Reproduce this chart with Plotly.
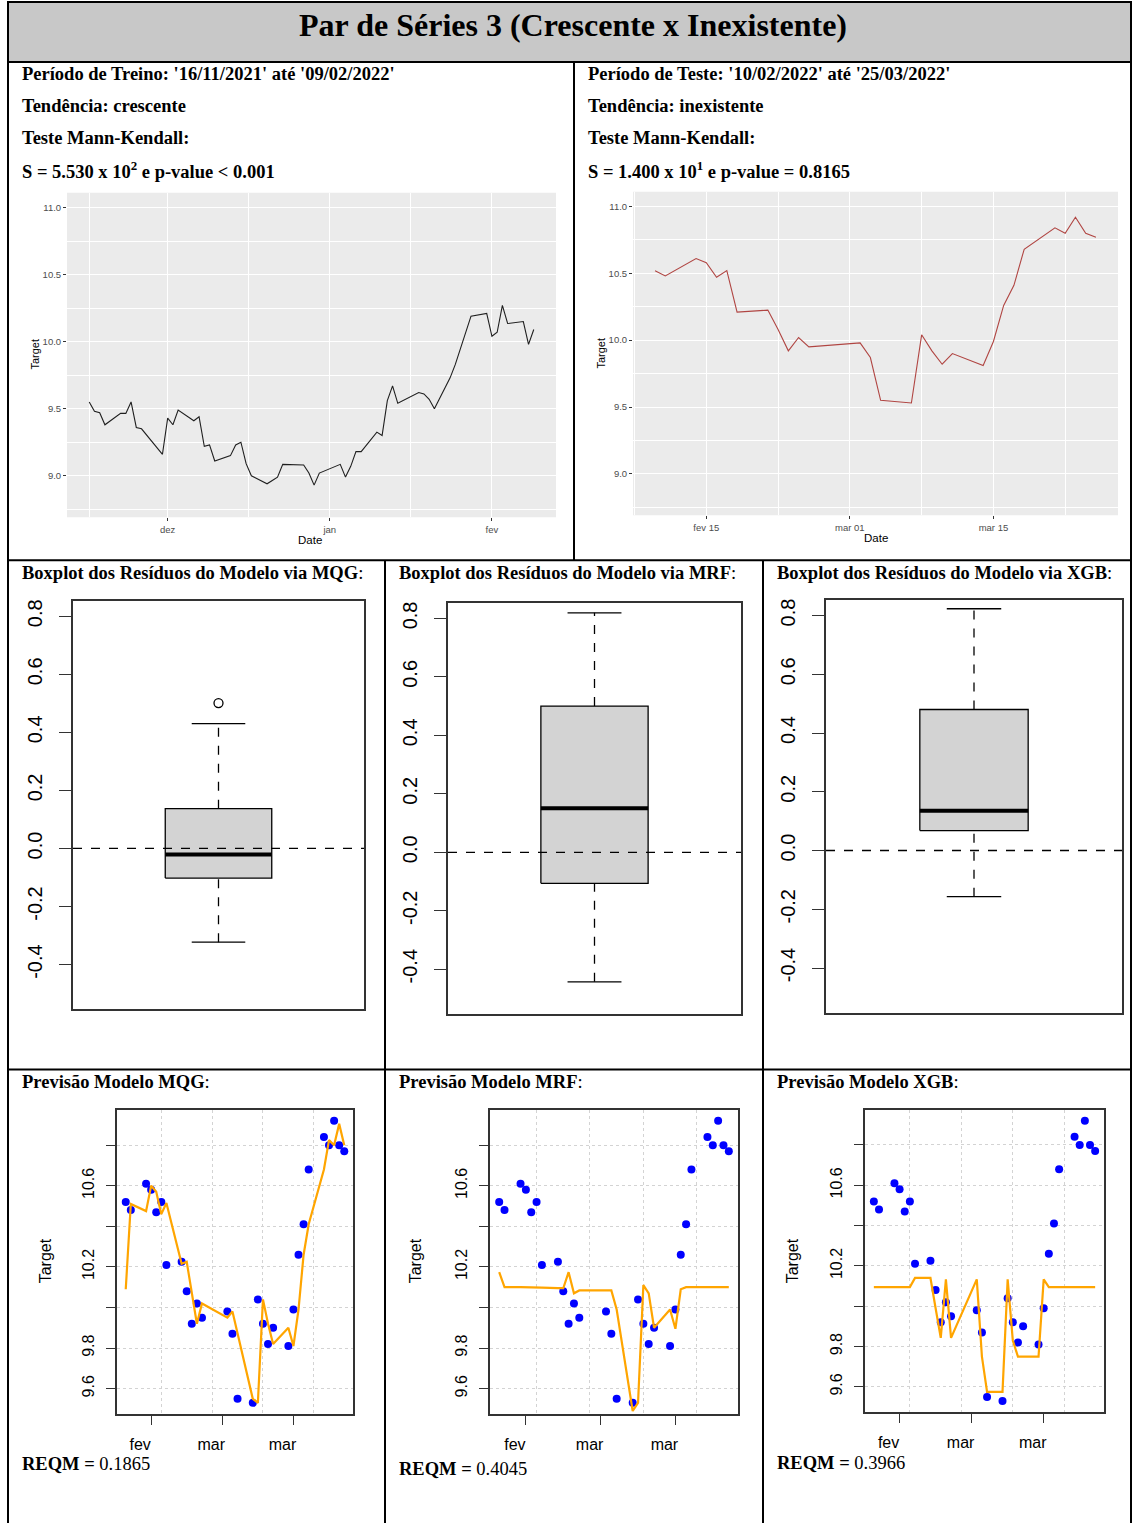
import plotly.graph_objects as go
import pandas as pd

W, H = 1133, 1523

# ---------------- data ----------------
train_dates = ["2021-11-16", "2021-11-17", "2021-11-18", "2021-11-19", "2021-11-22", "2021-11-23",
               "2021-11-24", "2021-11-25", "2021-11-26", "2021-11-29", "2021-11-30", "2021-12-01",
               "2021-12-02", "2021-12-03", "2021-12-06", "2021-12-07", "2021-12-08", "2021-12-09",
               "2021-12-10", "2021-12-13", "2021-12-14", "2021-12-15", "2021-12-16", "2021-12-17",
               "2021-12-20", "2021-12-21", "2021-12-22", "2021-12-23", "2021-12-27", "2021-12-28",
               "2021-12-29", "2021-12-30", "2022-01-03", "2022-01-04", "2022-01-05", "2022-01-06",
               "2022-01-07", "2022-01-10", "2022-01-11", "2022-01-12", "2022-01-13", "2022-01-14",
               "2022-01-17", "2022-01-18", "2022-01-19", "2022-01-20", "2022-01-21", "2022-01-24",
               "2022-01-25", "2022-01-26", "2022-01-27", "2022-01-28", "2022-01-31", "2022-02-01",
               "2022-02-02", "2022-02-03", "2022-02-04", "2022-02-07", "2022-02-08", "2022-02-09"]
train_values = [9.55, 9.48, 9.47, 9.38, 9.465, 9.465,
                9.55, 9.36, 9.35, 9.21, 9.16, 9.43,
                9.38, 9.49, 9.41, 9.44, 9.22, 9.23,
                9.11, 9.15, 9.23, 9.25, 9.09, 9.00,
                8.94, 8.965, 8.99, 9.085, 9.08, 9.02,
                8.93, 9.02, 9.085, 8.99, 9.07, 9.18,
                9.18, 9.325, 9.30, 9.56, 9.67, 9.54,
                9.60, 9.62, 9.61, 9.57, 9.50, 9.73,
                9.83, 9.95, 10.07, 10.19, 10.21, 10.04,
                10.07, 10.27, 10.135, 10.15, 9.98, 10.09]

test_dates = ["2022-02-10", "2022-02-11", "2022-02-14", "2022-02-15", "2022-02-16", "2022-02-17",
              "2022-02-18", "2022-02-21", "2022-02-22", "2022-02-23", "2022-02-24", "2022-02-25",
              "2022-03-02", "2022-03-03", "2022-03-04", "2022-03-07", "2022-03-08", "2022-03-09",
              "2022-03-10", "2022-03-11", "2022-03-14", "2022-03-15", "2022-03-16", "2022-03-17",
              "2022-03-18", "2022-03-21", "2022-03-22", "2022-03-23", "2022-03-24", "2022-03-25"]
test_values = [10.52, 10.48, 10.61, 10.58, 10.47, 10.52,
               10.21, 10.225, 10.08, 9.92, 10.02, 9.95,
               9.98, 9.87, 9.55, 9.53, 10.04, 9.92,
               9.82, 9.90, 9.81, 9.99, 10.26, 10.41,
               10.68, 10.84, 10.80, 10.92, 10.80, 10.77]

pred_mqg = [10.09, 10.51, 10.475, 10.60, 10.57, 10.46,
            10.515, 10.215, 10.225, 10.08, 9.92, 10.02,
            9.95, 9.98, 9.87, 9.55, 9.53, 10.04,
            9.92, 9.82, 9.90, 9.81, 9.99, 10.26,
            10.41, 10.68, 10.825, 10.80, 10.905, 10.80]
pred_mrf = [10.174, 10.10, 10.10, 10.10, 10.10, 10.10,
            10.098, 10.095, 10.095, 10.174, 10.07, 10.084,
            10.084, 10.084, 9.99, 9.49, 9.53, 10.11,
            10.07, 9.90, 9.99, 9.895, 10.09, 10.10,
            10.10, 10.10, 10.10, 10.10, 10.10, 10.10]
pred_xgb = [10.095, 10.095, 10.095, 10.095, 10.095, 10.095,
            10.14, 10.14, 9.99, 9.843, 10.133, 9.843,
            10.133, 9.75, 9.575, 9.575, 10.133, 9.83,
            9.75, 9.75, 9.75, 10.133, 10.095, 10.095,
            10.095, 10.095, 10.095, 10.095, 10.095, 10.095]

models = ["MQG", "MRF", "XGB"]
reqm_values = ["0.1865", "0.4045", "0.3966"]

box_lower = [-0.323, -0.443, -0.157]
box_q1 = [-0.102, -0.106, 0.068]
box_median = [-0.021, 0.151, 0.135]
box_q3 = [0.137, 0.500, 0.480]
box_upper = [0.430, 0.819, 0.823]
box_outliers = [[0.501], [], []]

gg_ylim = [8.8, 11.0]
gg_yticks = [9.0, 9.5, 10.0, 10.5, 11.0]
gg_yticktext = ["9.0", "9.5", "10.0", "10.5", "11.0"]
gg_yminor = [8.75, 9.25, 9.75, 10.25, 10.75]
train_xticks = ["2021-12-01", "2022-01-01", "2022-02-01"]
train_xticktext = ["dez", "jan", "fev"]
train_xminor = ["2021-11-16", "2021-12-16 12:00", "2022-01-16 12:00"]
test_xticks = ["2022-02-15", "2022-03-01", "2022-03-15"]
test_xticktext = ["fev 15", "mar 01", "mar 15"]
test_xminor = ["2022-02-08", "2022-02-22", "2022-03-08", "2022-03-22"]

pred_xticktext = ["fev", "mar", "mar"]
pred_xgrid = ["2022-02-17", "2022-02-27", "2022-03-09", "2022-03-19"]
pred_yticks = [9.6, 9.8, 10.0, 10.2, 10.4, 10.6, 10.8]
pred_yticktext = ["9.6", "9.8", " ", "10.2", " ", "10.6", " "]

box_ylim = [-0.5, 0.8]
box_yticks = [-0.4, -0.2, 0.0, 0.2, 0.4, 0.6, 0.8]
box_yticktext = ["-0.4", "-0.2", "0.0", "0.2", "0.4", "0.6", "0.8"]

# ---------------- helpers ----------------
def fx(p):
    return p / W


def fy(p):
    return 1 - p / H


def dstr(t):
    return t.strftime("%Y-%m-%d %H:%M:%S")


def expand_dates(dates, frac):
    d = pd.to_datetime(dates)
    span = d.max() - d.min()
    return [dstr(d.min() - frac * span), dstr(d.max() + frac * span)]


def expand_num(lo, hi, frac):
    s = hi - lo
    return [lo - frac * s, hi + frac * s]


SANS = "Liberation Sans"
SERIF = "Liberation Serif"

fig = go.Figure()

# ---------------- top ggplot panels ----------------
fig.add_trace(go.Scatter(x=train_dates, y=train_values, mode="lines",
                         line=dict(color="#1f1f1f", width=1.1), xaxis="x", yaxis="y"))
fig.add_trace(go.Scatter(x=test_dates, y=test_values, mode="lines",
                         line=dict(color="#B04542", width=1.1), xaxis="x2", yaxis="y2"))

gg_yrange = expand_num(gg_ylim[0], gg_ylim[1], 0.05)


def gg_xaxis(dom, rng, tv, tt, minor, anchor):
    return dict(domain=dom, type="date", range=rng, tickmode="array", tickvals=tv, ticktext=tt,
                ticks="outside", ticklen=3, tickcolor="#333333", tickwidth=1,
                tickfont=dict(size=9.5, color="#4D4D4D", family=SANS),
                showgrid=True, gridcolor="white", gridwidth=1.1, zeroline=False, showline=False,
                minor=dict(tickmode="array", tickvals=minor, showgrid=True, gridcolor="white",
                           gridwidth=0.5),
                anchor=anchor)


def gg_yaxis(dom, anchor):
    return dict(domain=dom, range=gg_yrange, tickmode="array", tickvals=gg_yticks,
                ticktext=gg_yticktext, ticks="outside", ticklen=3, tickcolor="#333333",
                tickwidth=1, tickfont=dict(size=9.5, color="#4D4D4D", family=SANS),
                showgrid=True, gridcolor="white", gridwidth=1.1, zeroline=False, showline=False,
                minor=dict(tickmode="array", tickvals=gg_yminor, showgrid=True,
                           gridcolor="white", gridwidth=0.5),
                anchor=anchor)


layout = dict(
    width=W, height=H, margin=dict(l=0, r=0, t=0, b=0),
    paper_bgcolor="white", plot_bgcolor="white", showlegend=False,
    font=dict(family=SANS, color="black"),
)
layout["xaxis"] = gg_xaxis([fx(67), fx(556)], expand_dates(train_dates, 0.05),
                           train_xticks, train_xticktext, train_xminor, "y")
layout["yaxis"] = gg_yaxis([fy(516), fy(191)], "x")
layout["xaxis2"] = gg_xaxis([fx(633), fx(1118)], expand_dates(test_dates, 0.05),
                            test_xticks, test_xticktext, test_xminor, "y2")
layout["yaxis2"] = gg_yaxis([fy(514), fy(190)], "x2")

shapes = []
for xr, yr in [("x", "y"), ("x2", "y2")]:
    shapes.append(dict(type="rect", xref=xr + " domain", yref=yr + " domain", x0=0, x1=1, y0=0,
                       y1=1, fillcolor="#EBEBEB", line=dict(width=0), layer="below"))

# ---------------- boxplots ----------------
box_frames = [(73, 364, 600, 1008), (448, 741, 602, 1013), (826, 1122, 599, 1012)]
box_yrange = expand_num(box_ylim[0], box_ylim[1], 0.04)
center, half_w, cap_w = 1.0, 0.183, 0.092
for i in range(3):
    k = i + 3
    xa, ya = "x%d" % k, "y%d" % k
    # whiskers
    fig.add_trace(go.Scatter(x=[center, center], y=[box_q3[i], box_upper[i]], mode="lines",
                             line=dict(color="black", width=1.3, dash="dash"), xaxis=xa, yaxis=ya))
    fig.add_trace(go.Scatter(x=[center, center], y=[box_lower[i], box_q1[i]], mode="lines",
                             line=dict(color="black", width=1.3, dash="dash"), xaxis=xa, yaxis=ya))
    # caps
    for v in (box_upper[i], box_lower[i]):
        fig.add_trace(go.Scatter(x=[center - cap_w, center + cap_w], y=[v, v], mode="lines",
                                 line=dict(color="black", width=1.3), xaxis=xa, yaxis=ya))
    # box
    fig.add_trace(go.Scatter(x=[center - half_w, center + half_w, center + half_w,
                                center - half_w, center - half_w],
                             y=[box_q1[i], box_q1[i], box_q3[i], box_q3[i], box_q1[i]],
                             mode="lines", fill="toself", fillcolor="#D3D3D3",
                             line=dict(color="black", width=1.3), xaxis=xa, yaxis=ya))
    # median
    fig.add_trace(go.Scatter(x=[center - half_w, center + half_w],
                             y=[box_median[i], box_median[i]], mode="lines",
                             line=dict(color="black", width=4), xaxis=xa, yaxis=ya))
    if box_outliers[i]:
        fig.add_trace(go.Scatter(x=[center] * len(box_outliers[i]), y=box_outliers[i],
                                 mode="markers",
                                 marker=dict(symbol="circle-open", size=9, color="black",
                                             line=dict(color="black", width=1.3)),
                                 xaxis=xa, yaxis=ya))
    x0, x1, y0, y1 = box_frames[i]
    layout["xaxis%d" % k] = dict(domain=[fx(x0), fx(x1)], range=[0.5, 1.5], showticklabels=False,
                                 ticks="", showgrid=False, zeroline=False, showline=True,
                                 mirror=True, linecolor="#333333", linewidth=1.5, anchor=ya)
    layout["yaxis%d" % k] = dict(domain=[fy(y1), fy(y0)], range=box_yrange, tickmode="array",
                                 tickvals=box_yticks, ticktext=box_yticktext, tickangle=-90,
                                 ticks="outside", ticklen=12, tickcolor="#333333", tickwidth=1.3,
                                 tickfont=dict(size=20, family=SANS, color="black"),
                                 ticklabelstandoff=9,
                                 showgrid=False, zeroline=False, showline=True, mirror=True,
                                 linecolor="#333333", linewidth=1.5, anchor=xa)
    shapes.append(dict(type="line", xref=xa + " domain", yref=ya, x0=0, x1=1, y0=0, y1=0,
                       line=dict(color="black", width=1.3, dash="dash")))

# ---------------- prediction plots ----------------
pred_frames = [(117, 353, 1109, 1414), (490, 738, 1109, 1414), (865, 1104, 1109, 1412)]
preds = [pred_mqg, pred_mrf, pred_xgb]
pred_xrange = expand_dates(test_dates, 0.04)
pred_yrange = expand_num(min(test_values), max(test_values), 0.04)
for i in range(3):
    k = i + 6
    xa, ya = "x%d" % k, "y%d" % k
    fig.add_trace(go.Scatter(x=test_dates, y=test_values, mode="markers",
                             marker=dict(color="#0000FF", size=8), xaxis=xa, yaxis=ya))
    fig.add_trace(go.Scatter(x=test_dates, y=preds[i], mode="lines",
                             line=dict(color="#FFA500", width=2.2), xaxis=xa, yaxis=ya))
    x0, x1, y0, y1 = pred_frames[i]
    layout["xaxis%d" % k] = dict(domain=[fx(x0), fx(x1)], type="date", range=pred_xrange,
                                 tickmode="array", tickvals=test_xticks, ticktext=pred_xticktext,
                                 ticks="outside", ticklen=9, tickcolor="#333333", tickwidth=1.3,
                                 tickfont=dict(size=16, family=SANS, color="black"),
                                 ticklabelshift=-11, ticklabelstandoff=6,
                                 showgrid=False, zeroline=False, showline=True, mirror=True,
                                 linecolor="#333333", linewidth=1.5,
                                 minor=dict(tickmode="array", tickvals=pred_xgrid, showgrid=True,
                                            gridcolor="#D3D3D3", griddash="dot", gridwidth=1),
                                 anchor=ya)
    layout["yaxis%d" % k] = dict(domain=[fy(y1), fy(y0)], range=pred_yrange, tickmode="array",
                                 tickvals=pred_yticks, ticktext=pred_yticktext, tickangle=-90,
                                 ticks="outside", ticklen=9, tickcolor="#333333", tickwidth=1.3,
                                 tickfont=dict(size=16, family=SANS, color="black"),
                                 ticklabelstandoff=6,
                                 showgrid=True, gridcolor="#D3D3D3", griddash="dot", gridwidth=1,
                                 zeroline=False, showline=True, mirror=True,
                                 linecolor="#333333", linewidth=1.5, anchor=xa)

# ---------------- table frame ----------------
LW = 2
shapes.append(dict(type="rect", xref="paper", yref="paper", x0=fx(8), x1=fx(1131), y0=fy(60),
                   y1=fy(0), fillcolor="#C8C8C8", line=dict(color="black", width=LW),
                   layer="below"))
frame_lines = [
    (8, 0, 8, 1523), (1131, 0, 1131, 1523),
    (8, 60, 1131, 60), (8, 559, 1131, 559), (8, 1069, 1131, 1069),
    (574, 60, 574, 559), (385, 559, 385, 1523), (763, 559, 763, 1523),
]
for (ax0, ay0, ax1, ay1) in frame_lines:
    shapes.append(dict(type="line", xref="paper", yref="paper", x0=fx(ax0), y0=fy(ay0),
                       x1=fx(ax1), y1=fy(ay1), line=dict(color="black", width=LW)))
layout["shapes"] = shapes

# ---------------- texts ----------------
ann = []
SPAN = '<span style="font-family:\'Liberation Serif\'">%s</span>'


def text(x, y, s, size=18.5, family=SERIF, xanchor="left", angle=0, color="black"):
    ann.append(dict(x=fx(x), y=fy(y), xref="paper", yref="paper", text=s, showarrow=False,
                    xanchor=xanchor, yanchor="middle", textangle=angle, borderpad=0,
                    font=dict(size=size, family=family, color=color)))


text(573, 23, "<b>Par de Séries 3 (Crescente x Inexistente)</b>", size=32, xanchor="center")

left_lines = ["<b>Período de Treino: '16/11/2021' até '09/02/2022'</b>",
              "<b>Tendência: crescente</b>",
              "<b>Teste Mann-Kendall:</b>",
              "<b>S = 5.530 x 10<sup>2</sup> e p-value &lt; 0.001</b>"]
right_lines = ["<b>Período de Teste: '10/02/2022' até '25/03/2022'</b>",
               "<b>Tendência: inexistente</b>",
               "<b>Teste Mann-Kendall:</b>",
               "<b>S = 1.400 x 10<sup>1</sup> e p-value = 0.8165</b>"]
for j, yy in enumerate([72, 104, 136, 168]):
    text(21, yy, left_lines[j])
    text(587, yy, right_lines[j])

# ggplot axis titles
text(35, 353, "Target", size=11, family=SANS, xanchor="center", angle=-90)
text(310, 539, "Date", size=11.5, family=SANS, xanchor="center")
text(601, 352, "Target", size=11, family=SANS, xanchor="center", angle=-90)
text(876, 537, "Date", size=11.5, family=SANS, xanchor="center")

col_x = [21, 398, 776]
for i in range(3):
    text(col_x[i], 572, "<b>Boxplot dos Resíduos do Modelo via %s</b>%s"
         % (models[i], SPAN % ":"))
    text(col_x[i], 1081, "<b>Previsão Modelo %s</b>%s" % (models[i], SPAN % ":"))

reqm_y = [1464, 1469, 1463]
for i in range(3):
    text(col_x[i], reqm_y[i], "<b>REQM =</b> %s" % (SPAN % reqm_values[i]), size=18.5)

target_x = [45, 415, 792]
for i in range(3):
    text(target_x[i], 1261, "Target", size=16, family=SANS, xanchor="center", angle=-90)

layout["annotations"] = ann
fig.update_layout(**layout)
fig.write_html("out.html")
